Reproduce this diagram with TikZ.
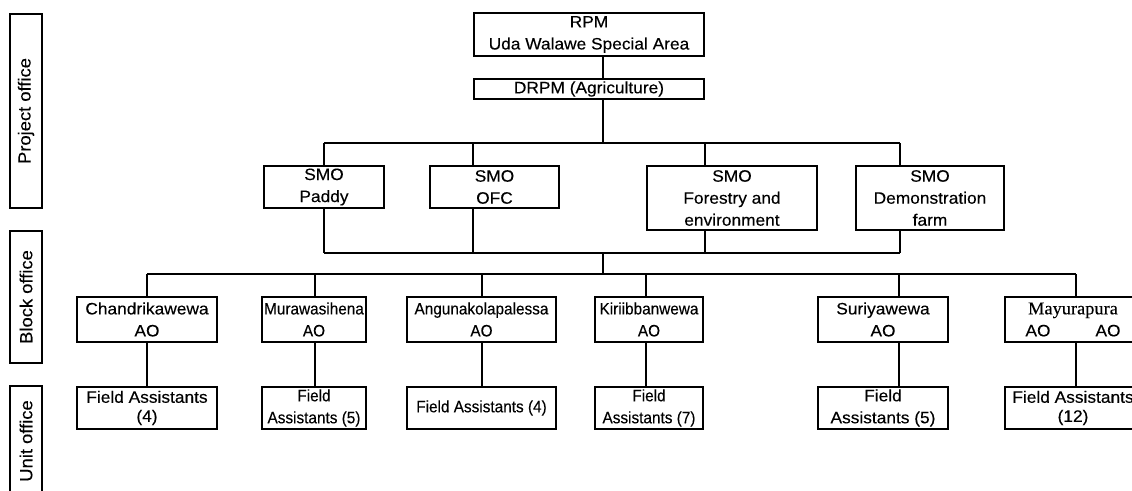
\documentclass[tikz,border=0pt]{standalone}
\usepackage{fontspec}
\setmainfont{Liberation Sans}[FakeStretch=1.05, FakeBold=0.2]
\newfontfamily\narrowfont{Liberation Sans}[FakeStretch=0.93, FakeBold=0.2]
\newfontfamily\romanface{Liberation Serif}[FakeStretch=1.02, FakeBold=0.2]

\tikzset{
  orgbox/.style={draw, line width=2pt, rectangle, inner sep=0pt, align=center,
    font=\fontsize{16.5}{22}\selectfont},
  sidebox/.style={draw, line width=2pt, rectangle, inner sep=0pt, rotate=90,
    minimum height=32pt, font=\fontsize{17.5}{20}\selectfont},
  conn/.style={line width=2pt},
  blockrow/.style={orgbox, minimum height=45pt},
  farow/.style={orgbox, minimum height=42pt},
}

\begin{document}
\begin{tikzpicture}[x=1pt, y=-1pt]
\useasboundingbox (0,0) rectangle (1132,490);
\clip (0,0) rectangle (1132,490);
\fill[white] (0,0) rectangle (1132,490);

% office level labels
\node[sidebox, minimum width=194pt] (lproject) at (26,111) {Project office};
\node[sidebox, minimum width=132pt] (lblock)   at (26,297) {Block office};
\node[sidebox, minimum width=110pt] (lunit)    at (26,441) {Unit office};

% project office
\node[orgbox, minimum width=230pt, minimum height=43pt] (rpm) at (589,34.5)
  {RPM\\Uda Walawe Special Area};
\node[orgbox, minimum width=230pt, minimum height=20pt] (drpm) at (589,89)
  {DRPM (Agriculture)};

\node[orgbox, minimum width=120pt, minimum height=42pt] (paddy) at (324,187)
  {SMO\\Paddy};
\node[orgbox, minimum width=129pt, minimum height=42pt] (ofc) at (494.5,187)
  {SMO\\OFC};
\node[orgbox, minimum width=170pt, minimum height=64pt] (forest) at (732,198)
  {SMO\\Forestry and\\environment};
\node[orgbox, minimum width=148pt, minimum height=64pt] (demo) at (930,198)
  {SMO\\Demonstration\\farm};

% block office
\node[blockrow, minimum width=140pt] (chan) at (147,319.5) {Chandrikawewa\\AO};
\node[blockrow, minimum width=104pt] (mura) at (314,319.5)
  {\narrowfont Murawasihena\\\narrowfont AO};
\node[blockrow, minimum width=149pt] (angu) at (481.5,319.5)
  {\narrowfont Angunakolapalessa\\\narrowfont AO};
\node[blockrow, minimum width=108pt] (kiri) at (649,319.5)
  {\narrowfont Kiriibbanwewa\\\narrowfont AO};
\node[blockrow, minimum width=130pt] (suri) at (883,319.5) {Suriyawewa\\AO};
\node[blockrow, minimum width=136pt] (mayu) at (1073,319.5)
  {{\romanface\fontsize{18}{22}\selectfont Mayurapura}\\AO\hspace{45pt}AO};

% unit office
\node[farow, minimum width=140pt, font=\fontsize{16.5}{19}\selectfont] (fchan) at (147,408)
  {Field Assistants\\(4)};
\node[farow, minimum width=104pt] (fmura) at (314,408)
  {\narrowfont Field\\\narrowfont Assistants (5)};
\node[farow, minimum width=149pt] (fangu) at (481.5,408)
  {\narrowfont Field Assistants (4)};
\node[farow, minimum width=108pt] (fkiri) at (649,408)
  {\narrowfont Field\\\narrowfont Assistants (7)};
\node[farow, minimum width=130pt] (fsuri) at (883,408)
  {Field\\Assistants (5)};
\node[farow, minimum width=136pt, font=\fontsize{16.5}{19}\selectfont] (fmayu) at (1073,408)
  {Field Assistants\\(12)};

% bus junctions
\coordinate (topx)   at (603,0);
\coordinate (smoL)   at (324,143);
\coordinate (smoR)   at (900,143);
\coordinate (smoHub) at (603,143);
\coordinate (lowL)   at (324,253);
\coordinate (lowR)   at (900,253);
\coordinate (lowHub) at (603,253);
\coordinate (blkL)   at (147,274);
\coordinate (blkR)   at (1076,274);
\coordinate (blkHub) at (603,274);

% project office connectors
\draw[conn] (rpm.south -| topx) -- (drpm.north -| topx);
\draw[conn] (drpm.south -| topx) -- (smoHub);
\draw[conn] (smoL) -- (smoR);
\draw[conn] (smoL) -- (paddy.north -| smoL);
\draw[conn] (473,143) -- (ofc.north -| 473,0);
\draw[conn] (705,143) -- (forest.north -| 705,0);
\draw[conn] (smoR) -- (demo.north -| smoR);

\draw[conn] (paddy.south -| lowL) -- (lowL);
\draw[conn] (ofc.south -| 473,0) -- (473,253);
\draw[conn] (forest.south -| 705,0) -- (705,253);
\draw[conn] (demo.south -| lowR) -- (lowR);
\draw[conn] (lowL) -- (lowR);
\draw[conn] (lowHub) -- (blkHub);

% block office connectors
\draw[conn] (blkL) -- (blkR);
\draw[conn] (blkL) -- (chan.north -| blkL);
\draw[conn] (315,274) -- (mura.north -| 315,0);
\draw[conn] (482,274) -- (angu.north -| 482,0);
\draw[conn] (646,274) -- (kiri.north -| 646,0);
\draw[conn] (899,274) -- (suri.north -| 899,0);
\draw[conn] (blkR) -- (mayu.north -| blkR);

% unit office connectors
\draw[conn] (chan.south -| blkL) -- (fchan.north -| blkL);
\draw[conn] (mura.south -| 315,0) -- (fmura.north -| 315,0);
\draw[conn] (angu.south -| 482,0) -- (fangu.north -| 482,0);
\draw[conn] (kiri.south -| 646,0) -- (fkiri.north -| 646,0);
\draw[conn] (suri.south -| 899,0) -- (fsuri.north -| 899,0);
\draw[conn] (mayu.south -| blkR) -- (fmayu.north -| blkR);
\end{tikzpicture}
\end{document}
